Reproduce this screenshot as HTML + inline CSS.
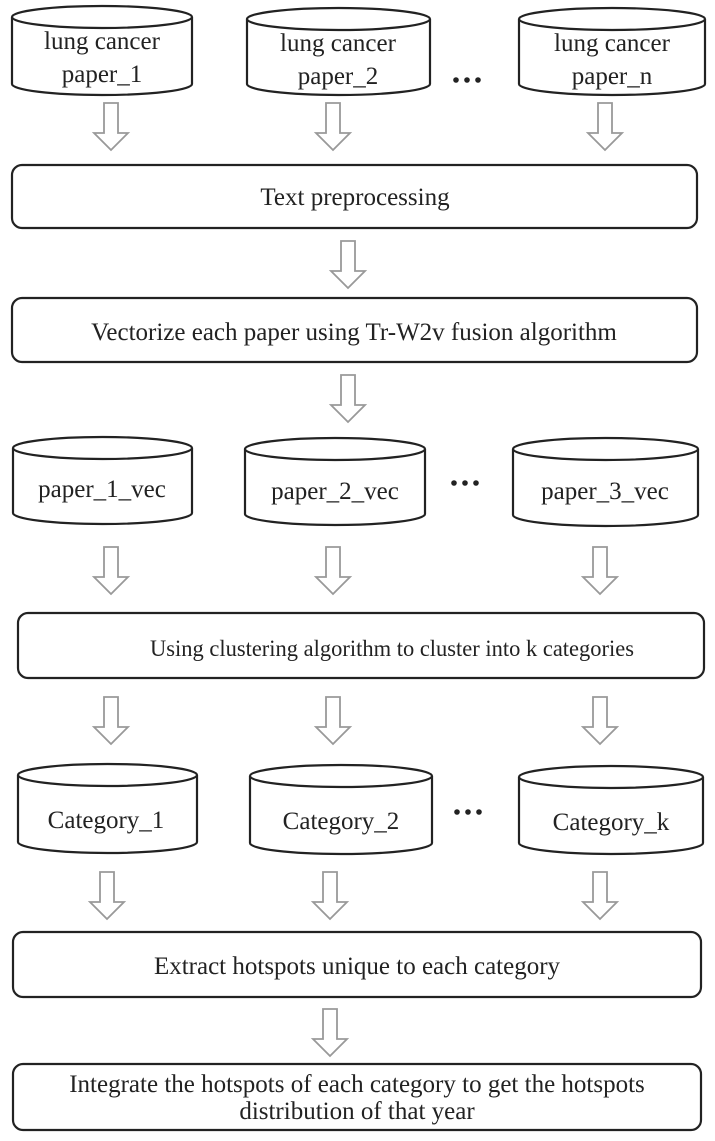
<!DOCTYPE html>
<html><head><meta charset="utf-8"><style>
html,body{margin:0;padding:0;background:#fff;}
svg{display:block;}
text{font-family:"Liberation Serif",serif;font-size:25px;fill:#222;text-anchor:middle;}
.b{fill:#fff;stroke:#222;stroke-width:2.2;}
.a{fill:#fff;stroke:#999;stroke-width:1.8;stroke-linejoin:miter;}
</style></head><body>
<svg width="715" height="1141" viewBox="0 0 715 1141" xmlns="http://www.w3.org/2000/svg">
<defs>
<g id="arr"><path class="a" d="M-7,0 H7 V30 H17 L0,47 L-17,30 H-7 Z"/></g>
<g id="dots" fill="#222"><circle cx="-11" cy="0" r="2.8"/><circle cx="0" cy="0" r="2.8"/><circle cx="11" cy="0" r="2.8"/></g>
</defs>
<path class="b" d="M12,17 V84 A90,11 0 0 0 192,84 V17"/><ellipse class="b" cx="102" cy="17" rx="90" ry="11"/>
<text x="102" y="49">lung cancer</text><text x="102" y="82">paper_1</text>
<path class="b" d="M247,19 V84 A91.5,11 0 0 0 430,84 V19"/><ellipse class="b" cx="338.5" cy="19" rx="91.5" ry="11"/>
<text x="338" y="51">lung cancer</text><text x="338" y="84">paper_2</text>
<path class="b" d="M519,19 V84 A93,11 0 0 0 705,84 V19"/><ellipse class="b" cx="612" cy="19" rx="93" ry="11"/>
<text x="612" y="51">lung cancer</text><text x="612" y="84">paper_n</text>
<use href="#dots" x="467" y="80"/>
<use href="#arr" x="111" y="103"/><use href="#arr" x="333" y="103"/><use href="#arr" x="605" y="103"/>
<rect class="b" x="12" y="165" width="685" height="63" rx="10"/>
<text x="355" y="205">Text preprocessing</text>
<use href="#arr" x="348" y="241"/>
<rect class="b" x="12" y="298" width="685" height="64" rx="10"/>
<text x="354" y="340">Vectorize each paper using Tr-W2v fusion algorithm</text>
<use href="#arr" x="348" y="375"/>
<path class="b" d="M13,448 V513 A89.5,11 0 0 0 192,513 V448"/><ellipse class="b" cx="102.5" cy="448" rx="89.5" ry="11"/>
<text x="102" y="497">paper_1_vec</text>
<path class="b" d="M245,449 V514 A90,11 0 0 0 425,514 V449"/><ellipse class="b" cx="335" cy="449" rx="90" ry="11"/>
<text x="335" y="499">paper_2_vec</text>
<path class="b" d="M513,449 V515 A92.5,11 0 0 0 698,515 V449"/><ellipse class="b" cx="605.5" cy="449" rx="92.5" ry="11"/>
<text x="605" y="499">paper_3_vec</text>
<use href="#dots" x="465" y="483"/>
<use href="#arr" x="111" y="547"/><use href="#arr" x="333" y="547"/><use href="#arr" x="600" y="547"/>
<rect class="b" x="18" y="613" width="686" height="65" rx="10"/>
<text x="392" y="656" style="font-size:23px" textLength="484" lengthAdjust="spacingAndGlyphs">Using clustering algorithm to cluster into k categories</text>
<use href="#arr" x="111" y="697"/><use href="#arr" x="333" y="697"/><use href="#arr" x="600" y="697"/>
<path class="b" d="M18,775 V842 A89.5,11 0 0 0 197,842 V775"/><ellipse class="b" cx="107.5" cy="775" rx="89.5" ry="11"/>
<text x="106" y="828">Category_1</text>
<path class="b" d="M250,776 V843 A91,11 0 0 0 432,843 V776"/><ellipse class="b" cx="341" cy="776" rx="91" ry="11"/>
<text x="341" y="829">Category_2</text>
<path class="b" d="M519,777 V843 A92,11 0 0 0 703,843 V777"/><ellipse class="b" cx="611" cy="777" rx="92" ry="11"/>
<text x="611" y="830">Category_k</text>
<use href="#dots" x="468" y="812"/>
<use href="#arr" x="107" y="872"/><use href="#arr" x="330" y="872"/><use href="#arr" x="600" y="872"/>
<rect class="b" x="13" y="932" width="688" height="65" rx="10"/>
<text x="357" y="974">Extract hotspots unique to each category</text>
<use href="#arr" x="330" y="1009"/>
<rect class="b" x="13" y="1064" width="688" height="66" rx="10"/>
<text x="357" y="1092">Integrate the hotspots of each category to get the hotspots</text>
<text x="357" y="1119">distribution of that year</text>
</svg>
</body></html>
